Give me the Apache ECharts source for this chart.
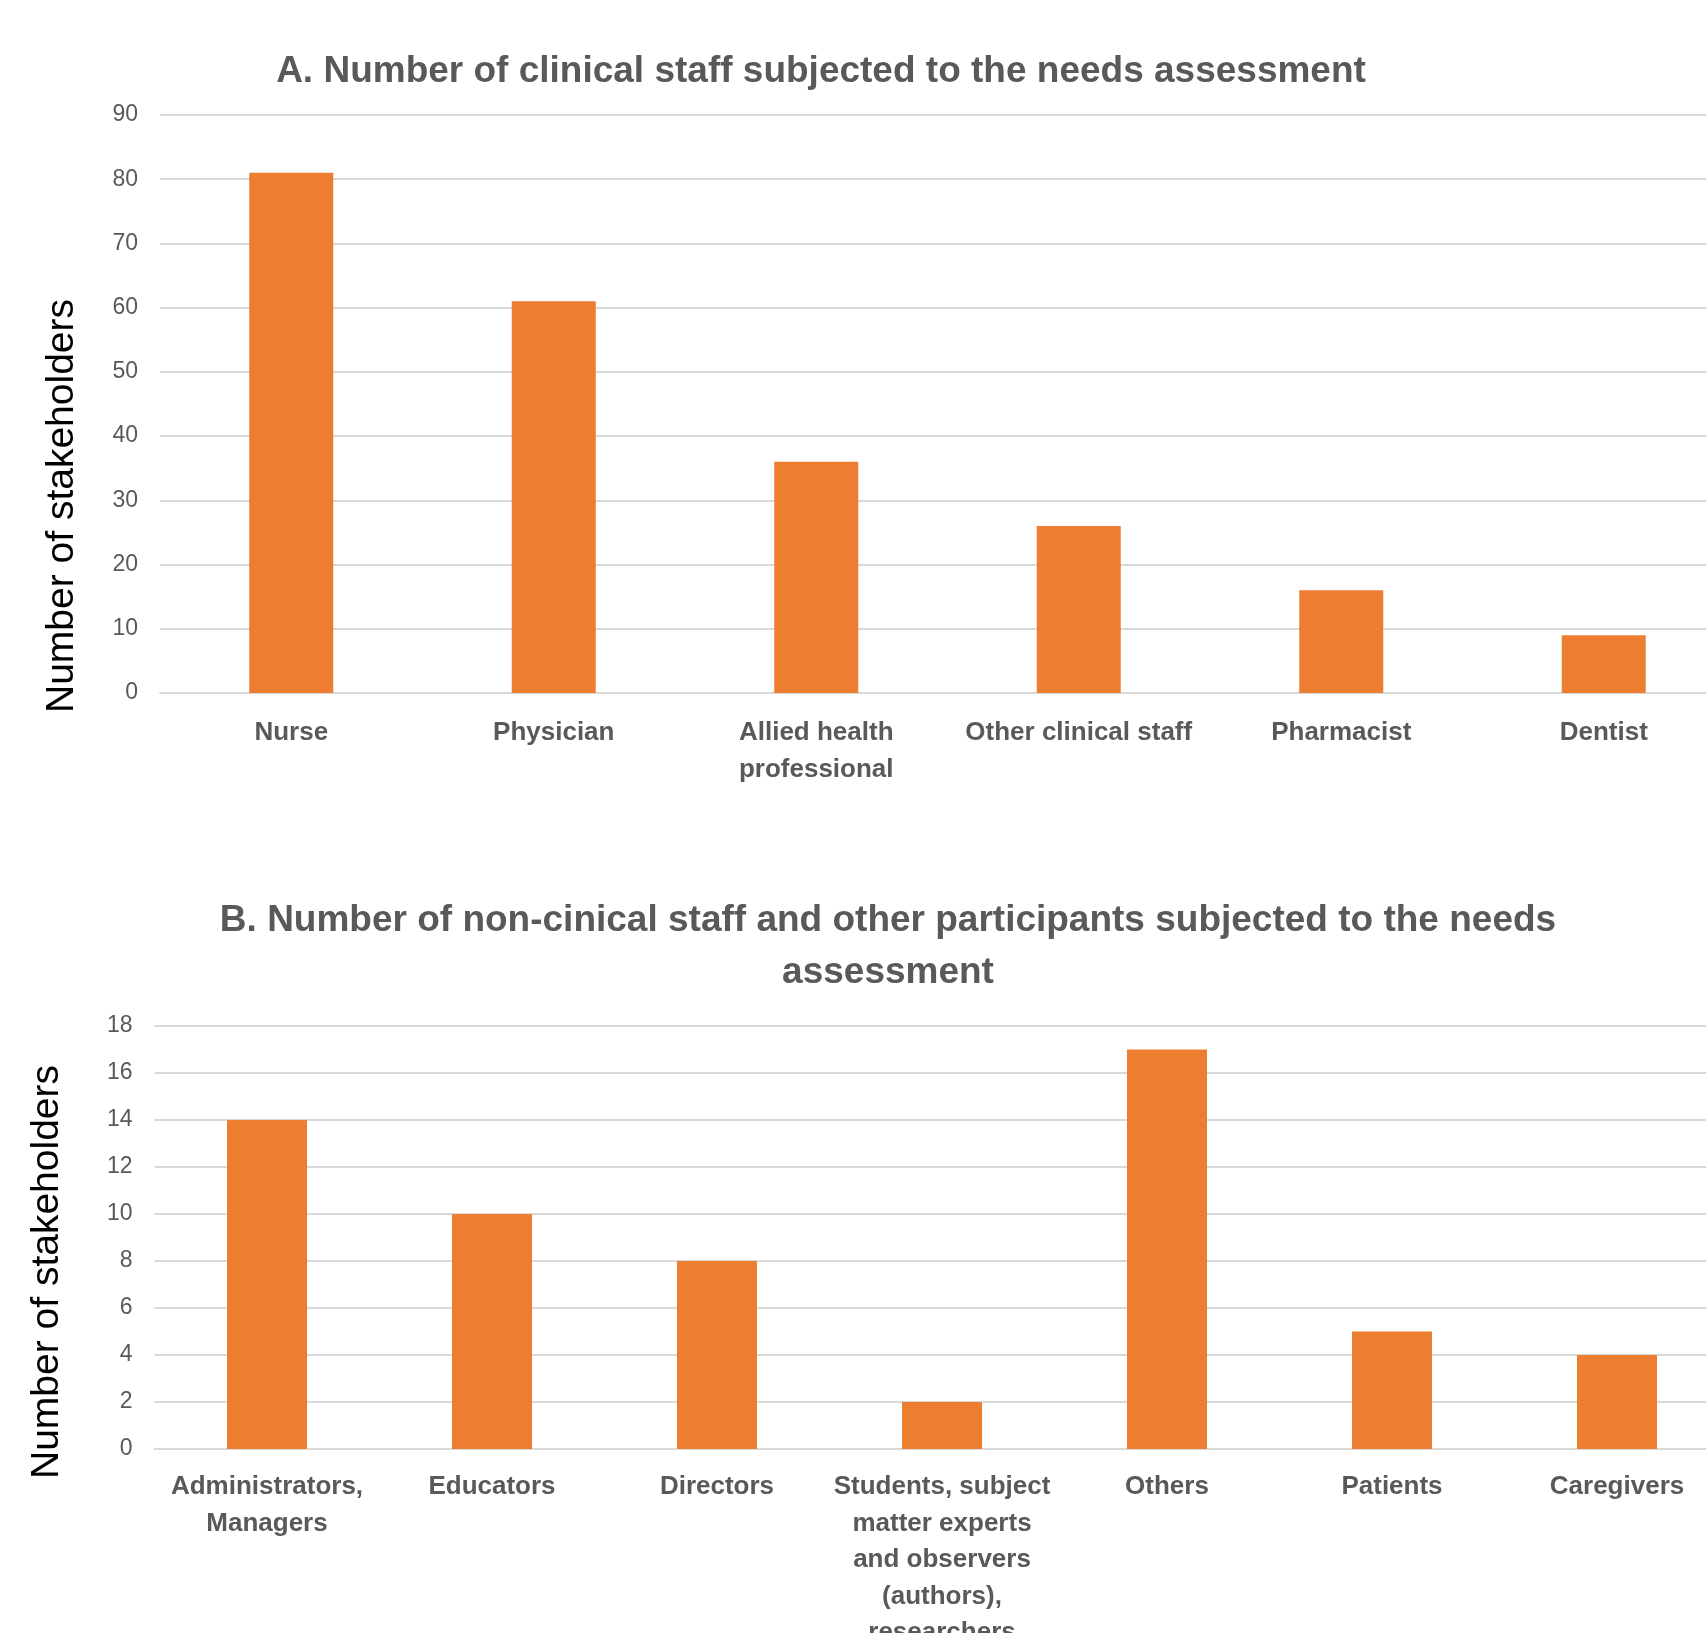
<!DOCTYPE html>
<html>
<head>
<meta charset="utf-8">
<title>Stakeholders subjected to the needs assessment</title>
<script src="https://cdn.jsdelivr.net/npm/echarts@6/dist/echarts.min.js"></script>
<style>
  html, body { margin: 0; padding: 0; background: #ffffff; overflow: hidden; }
  #chart { width: 1706px; height: 1633px; }
</style>
</head>
<body>
<div id="chart"></div>
<script>
// Panel A: clinical staff
const clinicalCategories = ['Nurse', 'Physician', 'Allied health\nprofessional', 'Other clinical staff', 'Pharmacist', 'Dentist'];
const clinicalCounts = [81, 61, 36, 26, 16, 9];
const clinicalTicks = { min: 0, max: 90, interval: 10 };

// Panel B: non-clinical staff and other participants
const otherCategories = ['Administrators,\nManagers', 'Educators', 'Directors', 'Students, subject\nmatter experts\nand observers\n(authors),\nresearchers', 'Others', 'Patients', 'Caregivers'];
const otherCounts = [14, 10, 8, 2, 17, 5, 4];
const otherTicks = { min: 0, max: 18, interval: 2 };

const titleA = 'A. Number of clinical staff subjected to the needs assessment';
const titleB = 'B. Number of non-cinical staff and other participants subjected to the needs\nassessment';
const yName = 'Number of stakeholders';

const FONT = "'Liberation Sans', Arial, sans-serif";
const GREY_TEXT = '#595959';
const GRID_LINE = '#d9d9d9';
const BAR = '#ED7D31';

function valueAxis(gridIndex, ticks) {
  return {
    type: 'value', gridIndex: gridIndex,
    min: ticks.min, max: ticks.max, interval: ticks.interval,
    axisLine: { show: false }, axisTick: { show: false },
    axisLabel: { color: GREY_TEXT, fontFamily: FONT, fontSize: 23, margin: 22 },
    splitLine: { lineStyle: { color: GRID_LINE, width: 2 } }
  };
}

function categoryAxis(gridIndex, cats, lh, margin) {
  return {
    type: 'category', gridIndex: gridIndex, data: cats,
    axisLine: { lineStyle: { color: GRID_LINE, width: 2 } },
    axisTick: { show: false },
    axisLabel: { interval: 0, color: GREY_TEXT, fontFamily: FONT, fontWeight: 'bold', fontSize: 26, lineHeight: lh, margin: margin }
  };
}

const chart = echarts.init(document.getElementById('chart'), null, { renderer: 'canvas' });
chart.setOption({
  backgroundColor: '#ffffff',
  animation: false,
  title: [
    { text: titleA, left: 816, top: 43, textAlign: 'center',
      textStyle: { color: GREY_TEXT, fontFamily: FONT, fontWeight: 'bold', fontSize: 37, lineHeight: 48 } },
    { text: titleB, left: 883, top: 890, textAlign: 'center',
      textStyle: { color: GREY_TEXT, fontFamily: FONT, fontWeight: 'bold', fontSize: 37, lineHeight: 52 } }
  ],
  // plot areas run past the right edge of the page, as in the original layout
  grid: [
    { left: 160, top: 115, width: 1575, height: 578, outerBoundsMode: 'none', containLabel: false },
    { left: 154.5, top: 1026, width: 1575, height: 423, outerBoundsMode: 'none', containLabel: false }
  ],
  xAxis: [
    categoryAxis(0, clinicalCategories, 37, 21),
    categoryAxis(1, otherCategories, 36.5, 20)
  ],
  yAxis: [
    valueAxis(0, clinicalTicks),
    valueAxis(1, otherTicks)
  ],
  graphic: [
    { type: 'text', x: 62, y: 506, rotation: Math.PI / 2,
      style: { text: yName, fill: '#000000', font: '39px ' + FONT, align: 'center', verticalAlign: 'middle' } },
    { type: 'text', x: 47, y: 1272, rotation: Math.PI / 2,
      style: { text: yName, fill: '#000000', font: '39px ' + FONT, align: 'center', verticalAlign: 'middle' } }
  ],
  series: [
    { type: 'bar', xAxisIndex: 0, yAxisIndex: 0, data: clinicalCounts, barWidth: 84, itemStyle: { color: BAR } },
    { type: 'bar', xAxisIndex: 1, yAxisIndex: 1, data: otherCounts, barWidth: 80, itemStyle: { color: BAR } }
  ]
});
</script>
</body>
</html>
